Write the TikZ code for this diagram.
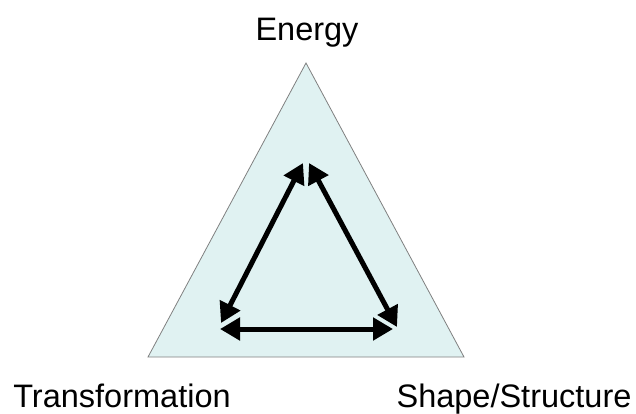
\documentclass[tikz,border=0pt]{standalone}
\usepackage{fontspec}
\setmainfont{Liberation Sans}
\usetikzlibrary{arrows.meta}
\definecolor{trifill}{HTML}{E0F2F2}
\definecolor{triline}{HTML}{808080}
\begin{document}
\begin{tikzpicture}[x=1pt,y=-1pt,
  label text/.style={font=\fontsize{32.5}{38}\selectfont, inner sep=0pt, anchor=base},
  bigarrow/.style={line width=5pt, {Triangle[length=20pt,width=22pt]}-{Triangle[length=20pt,width=22pt]}}]
\useasboundingbox (0,0) rectangle (636,414);
\coordinate (apex) at (306,63);
\coordinate (bl) at (148,357);
\coordinate (br) at (464,357);
\draw[triline, fill=trifill, line width=0.8pt] (apex) -- (br) -- (bl) -- cycle;
\node[label text] (energy) at (307,41) {Energy};
\node[label text] (trans) at (122,407) {Transformation};
\node[label text] (shape) at (514,407) {Shape/Structure};
\coordinate (lt) at (303,163);
\coordinate (lb) at (221,323);
\coordinate (rt) at (309,163);
\coordinate (rb) at (397,327);
\coordinate (hl) at (220,329);
\coordinate (hr) at (393,329);
\draw[bigarrow] (lt) -- (lb);
\draw[bigarrow] (rt) -- (rb);
\draw[bigarrow] (hl) -- (hr);
\end{tikzpicture}
\end{document}
